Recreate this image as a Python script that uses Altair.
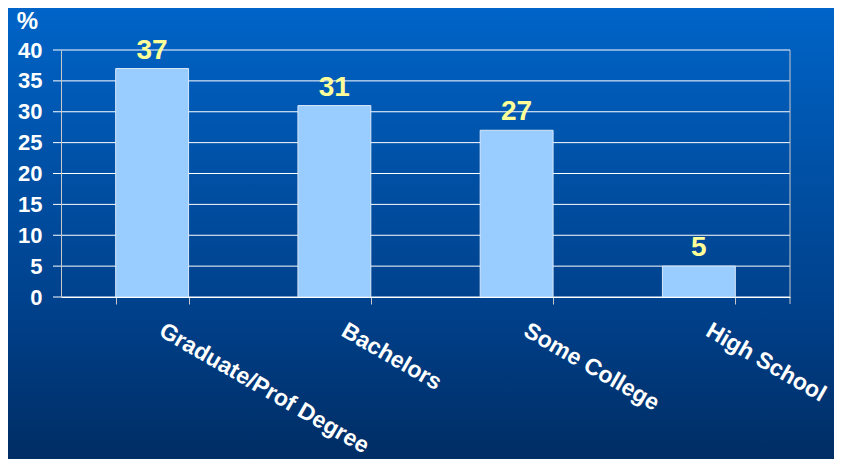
import altair as alt
import pandas as pd

categories = ["Graduate/Prof Degree", "Bachelors", "Some College", "High School"]
values = [37, 31, 27, 5]
grid_values = [0, 5, 10, 15, 20, 25, 30, 35, 40]

W, H = 729, 247
PAD_L, PAD_T, PAD_R, PAD_B = 53, 42, 44, 162
FONT = "Liberation Sans"

df = pd.DataFrame({"cat": categories, "val": values})
grid_df = pd.DataFrame({"g": grid_values})

bg = alt.Chart(alt.Data(values=[{}])).mark_rect(
    fill=alt.Gradient(
        gradient="linear",
        stops=[
            alt.GradientStop(color="#0064C8", offset=0),
            alt.GradientStop(color="#0052A8", offset=0.33),
            alt.GradientStop(color="#00418C", offset=0.66),
            alt.GradientStop(color="#002D64", offset=1),
        ],
        x1=0, x2=0, y1=0, y2=1,
    )
).encode(
    x=alt.value(-PAD_L), x2=alt.value(W + PAD_R),
    y=alt.value(-PAD_T), y2=alt.value(H + PAD_B),
)

border = alt.Chart(alt.Data(values=[{}])).mark_rule(color="#C8C8C8", strokeWidth=1).encode(
    x=alt.value(W), y=alt.value(0), y2=alt.value(H + 7),
)

yscale = alt.Scale(domain=[0, 40], nice=False)
xscale = alt.Scale(paddingInner=0.6, paddingOuter=0.3)

yaxis = alt.Axis(
    title="%", titleAngle=0, titleX=-34, titleY=-22, titleAlign="center",
    titleBaseline="alphabetic", titleFont=FONT, titleFontSize=24,
    titleFontWeight="bold", titleColor="white",
    values=grid_values, labelFont=FONT, labelFontSize=22, labelFontWeight="bold",
    labelColor="white", labelPadding=19, ticks=False, domainColor="#C8C8C8",
    grid=False, zindex=1, labelOverlap=False, labelBound=False,
)

xaxis = alt.Axis(
    title=None, labelAngle=30, labelAlign="left", labelBaseline="top",
    labelFont=FONT, labelFontSize=23, labelFontWeight="bold", labelColor="white",
    labelOffset=14, labelPadding=15, tickBand="extent", tickSize=7,
    tickColor="#C8C8C8", domainColor="white", grid=False, zindex=1,
    labelLimit=400, labelOverlap=False, labelBound=False,
)

grid = alt.Chart(grid_df).mark_rule(color="white", strokeWidth=1).encode(
    y=alt.Y("g:Q", scale=yscale, axis=yaxis),
    x=alt.value(-8), x2=alt.value(W),
)

bars = alt.Chart(df).mark_bar(color="#99CCFF", stroke="#D8E8F8", strokeWidth=1).encode(
    x=alt.X("cat:N", sort=categories, scale=xscale, axis=xaxis),
    y=alt.Y("val:Q", scale=yscale, axis=yaxis),
)

labels = alt.Chart(df).mark_text(
    font=FONT, fontSize=28, fontWeight="bold", color="#FFFF99",
    baseline="alphabetic", dy=-10,
).encode(
    x=alt.X("cat:N", sort=categories, scale=xscale, axis=xaxis),
    y=alt.Y("val:Q", scale=yscale, axis=yaxis),
    text=alt.Text("val:Q"),
)

chart = alt.layer(bg, grid, border, bars, labels).properties(
    width=W, height=H,
    autosize=alt.AutoSizeParams(type="none"),
    padding={"left": PAD_L, "top": PAD_T, "right": PAD_R, "bottom": PAD_B},
    background="#00306A",
).configure_view(
    stroke=None,
)

chart.save("out.html", embed_options={"renderer": "svg", "actions": False})
